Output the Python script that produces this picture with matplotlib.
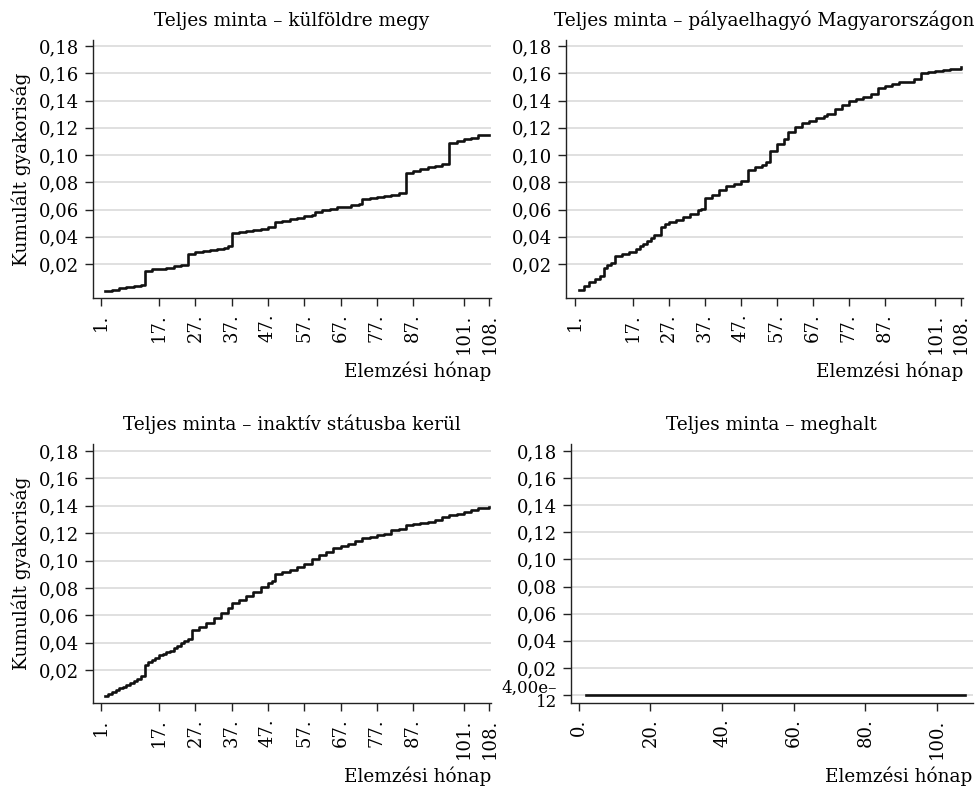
#!/usr/bin/env python3

"""."""
from matplotlib import pyplot as plt

plt.rcParams['font.family'] = 'DejaVu Serif'

# --- data ---
KULFOLD_MONTHS = [2, 4, 6, 8, 10, 12, 13, 15, 17, 19, 21, 23, 25, 27, 29,
                  31, 33, 35, 36, 37, 39, 41, 43, 45, 47, 49, 51, 53, 55,
                  57, 59, 60, 62, 64, 66, 68, 70, 72, 73, 75, 77, 79, 81,
                  83, 85, 87, 89, 91, 93, 95, 97, 99, 101, 103, 105, 108]
KULFOLD_VALUES = [0.0005, 0.0012, 0.0020, 0.0028, 0.0036, 0.0044, 0.0145,
                  0.0160, 0.0165, 0.0172, 0.0182, 0.0192, 0.0275, 0.0285,
                  0.0292, 0.0300, 0.0310, 0.0318, 0.0330, 0.0425, 0.0435,
                  0.0445, 0.0452, 0.0460, 0.0468, 0.0505, 0.0515, 0.0528,
                  0.0540, 0.0550, 0.0560, 0.0585, 0.0595, 0.0605, 0.0615,
                  0.0622, 0.0632, 0.0642, 0.0675, 0.0685, 0.0692, 0.0700,
                  0.0710, 0.0720, 0.0870, 0.0885, 0.0895, 0.0910, 0.0922,
                  0.0935, 0.1085, 0.1100, 0.1115, 0.1128, 0.1145, 0.1148]

PALYA_MONTHS = [2, 3.5, 5, 6.5, 8, 9, 10, 11, 12, 14, 16, 18, 19, 20, 21,
                22, 23, 25, 26, 27, 29, 31, 33, 35, 36, 37, 39, 41, 43, 45,
                47, 49, 51, 53, 54, 55, 57, 59, 60, 62, 64, 66, 68, 70, 71,
                73, 75, 77, 79, 81, 83, 85, 87, 89, 91, 93, 95, 97, 99, 101,
                103, 105, 108]
PALYA_VALUES = [0.0010, 0.0040, 0.0070, 0.0090, 0.0110, 0.0173, 0.0190,
                0.0210, 0.0258, 0.0270, 0.0290, 0.0310, 0.0330, 0.0350,
                0.0370, 0.0390, 0.0410, 0.0470, 0.0490, 0.0505, 0.0520,
                0.0545, 0.0570, 0.0595, 0.0607, 0.0685, 0.0710, 0.0740,
                0.0770, 0.0790, 0.0810, 0.0887, 0.0910, 0.0930, 0.0948,
                0.1033, 0.1080, 0.1120, 0.1167, 0.1205, 0.1235, 0.1250,
                0.1270, 0.1285, 0.1300, 0.1337, 0.1367, 0.1395, 0.1410,
                0.1430, 0.1450, 0.1496, 0.1510, 0.1520, 0.1535, 0.1540,
                0.1555, 0.1600, 0.1612, 0.1617, 0.1625, 0.1635, 0.1645]

INAKTIV_MONTHS = [2, 3, 4, 5, 6, 7, 8, 9, 10, 11, 12, 13, 14, 15, 16, 17,
                  18, 19, 20, 21, 22, 23, 24, 25, 26, 28, 30, 32, 34, 36,
                  37, 39, 41, 43, 45, 47, 48, 49, 51, 53, 55, 57, 59, 61,
                  63, 65, 67, 69, 71, 73, 75, 77, 79, 81, 83, 85, 87, 89,
                  91, 93, 95, 97, 99, 101, 103, 105, 108]
INAKTIV_VALUES = [0.0010, 0.0025, 0.0040, 0.0054, 0.0065, 0.0078, 0.0090,
                  0.0105, 0.0120, 0.0137, 0.0159, 0.0237, 0.0260, 0.0275,
                  0.0290, 0.0310, 0.0320, 0.0330, 0.0341, 0.0360, 0.0375,
                  0.0395, 0.0410, 0.0424, 0.0492, 0.0515, 0.0540, 0.0580,
                  0.0619, 0.0650, 0.0687, 0.0715, 0.0740, 0.0770, 0.0805,
                  0.0835, 0.0853, 0.0900, 0.0918, 0.0930, 0.0955, 0.0975,
                  0.1010, 0.1040, 0.1065, 0.1090, 0.1105, 0.1120, 0.1145,
                  0.1165, 0.1175, 0.1185, 0.1195, 0.1220, 0.1230, 0.1260,
                  0.1270, 0.1275, 0.1280, 0.1295, 0.1320, 0.1335, 0.1340,
                  0.1355, 0.1370, 0.1385, 0.1390]

MEGHALT_MONTHS = [2, 108]
MEGHALT_VALUES = [4e-12, 4e-12]

TITLES = ['Teljes minta – külföldre megy',
          'Teljes minta – pályaelhagyó Magyarországon',
          'Teljes minta – inaktív státusba kerül',
          'Teljes minta – meghalt']

Y_TICKS = [0.02, 0.04, 0.06, 0.08, 0.10, 0.12, 0.14, 0.16, 0.18]
Y_LABELS = ['0,02', '0,04', '0,06', '0,08', '0,10', '0,12', '0,14',
            '0,16', '0,18']
X_TICKS = [1, 17, 27, 37, 47, 57, 67, 77, 87, 101, 108]
X_LABELS = ['1.', '17.', '27.', '37.', '47.', '57.', '67.', '77.', '87.',
            '101.', '108.']
X_TICKS_DEAD = [0, 20, 40, 60, 80, 100]
X_LABELS_DEAD = ['0.', '20.', '40.', '60.', '80.', '100.']

FS = 13


def style_axes(ax, title, ylabel=True):
    """."""
    for side in ('top', 'right'):
        ax.spines[side].set_visible(False)
    for side in ('left', 'bottom'):
        ax.spines[side].set_linewidth(1.0)
        ax.spines[side].set_color('#222222')
    ax.grid(axis='y', color='#dddddd', linewidth=1.3)
    ax.set_axisbelow(True)
    ax.tick_params(length=6, width=1.0, color='#222222', labelsize=FS,
                   pad=4)
    ax.tick_params(axis='x', labelrotation=90, pad=5)
    ax.set_title(title, fontsize=FS + 0.3, pad=10)
    ax.set_xlabel('Elemzési hónap', fontsize=FS + 0.3, loc='right',
                  labelpad=6)
    if ylabel:
        ax.set_ylabel('Kumulált gyakoriság', fontsize=FS + 0.3, labelpad=6)


def plot_curve(ax, months, values, title, ylabel):
    """."""
    ax.step(months, values, where='post', color='#111111', linewidth=1.9)
    ax.set_xticks(X_TICKS)
    ax.set_xticklabels(X_LABELS)
    ax.set_yticks(Y_TICKS)
    ax.set_yticklabels(Y_LABELS)
    style_axes(ax, title, ylabel)


fig = plt.figure(figsize=(9.75, 7.89), dpi=100)

ax1 = fig.add_axes([0.0954, 0.6223, 0.408, 0.327])
plot_curve(ax1, KULFOLD_MONTHS, KULFOLD_VALUES, TITLES[0], True)
ax1.set_xlim(-1.2, 108.4)
ax1.set_ylim(-0.005, 0.1845)

ax2 = fig.add_axes([0.5805, 0.6223, 0.407, 0.327])
plot_curve(ax2, PALYA_MONTHS, PALYA_VALUES, TITLES[1], False)
ax2.set_xlim(-1.5, 108.6)
ax2.set_ylim(-0.005, 0.1845)

ax3 = fig.add_axes([0.0954, 0.109, 0.408, 0.328])
plot_curve(ax3, INAKTIV_MONTHS, INAKTIV_VALUES, TITLES[2], True)
ax3.set_xlim(-1.2, 108.4)
ax3.set_ylim(-0.0041, 0.185)

# last panel: all values near zero, Stata shows the minimum as a tick
ax4 = fig.add_axes([0.5856, 0.109, 0.412, 0.328])
ax4.plot(MEGHALT_MONTHS, MEGHALT_VALUES, color='#111111', linewidth=1.9)
ax4.set_xticks(X_TICKS_DEAD)
ax4.set_xticklabels(X_LABELS_DEAD)
ax4.set_yticks([MEGHALT_VALUES[0]] + Y_TICKS)
ax4.set_yticklabels(['4,00e–\n12'] + Y_LABELS)
style_axes(ax4, TITLES[3], False)
first = ax4.get_yticklabels()[0]
first.set_fontsize(FS - 1)
first.set_linespacing(0.8)
ax4.set_xlim(-2.2, 110)
ax4.set_ylim(-0.0059, 0.185)

fig.savefig('out.png', dpi=100)
